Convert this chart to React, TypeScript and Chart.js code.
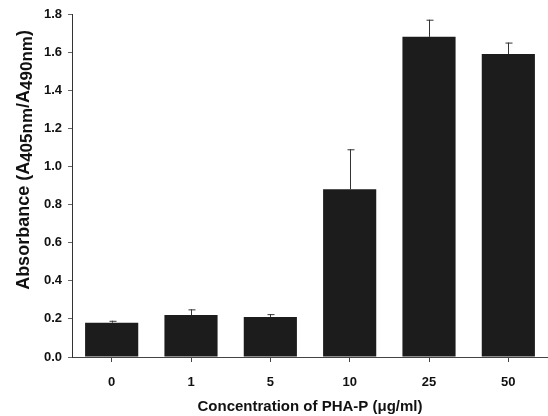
import React, { useEffect, useRef } from "react";
import { Chart, registerables } from "chart.js";

Chart.register(...registerables);

const categories = ["0", "1", "5", "10", "25", "50"];
const absorbance = [0.18, 0.22, 0.21, 0.88, 1.68, 1.59];
const errorUpper = [0.01, 0.03, 0.015, 0.21, 0.09, 0.06];
const yTicks = [0, 0.2, 0.4, 0.6, 0.8, 1.0, 1.2, 1.4, 1.6, 1.8];

const FONT = "'Liberation Sans', Arial, sans-serif";

const errorBarPlugin = {
  id: "errorBars",
  afterDatasetsDraw(chart: any) {
    const { ctx } = chart;
    const meta = chart.getDatasetMeta(0);
    const y = chart.scales.y;
    ctx.save();
    ctx.strokeStyle = "#333";
    ctx.lineWidth = 1;
    meta.data.forEach((bar: any, i: number) => {
      const top = y.getPixelForValue(absorbance[i] + errorUpper[i]);
      const base = y.getPixelForValue(absorbance[i]);
      const x = Math.round(bar.x) + 0.5;
      ctx.beginPath();
      ctx.moveTo(x, base);
      ctx.lineTo(x, top);
      ctx.moveTo(x - 3, top + 0.5);
      ctx.lineTo(x + 4, top + 0.5);
      ctx.stroke();
    });
    ctx.restore();
  },
  afterDraw(chart: any) {
    const { ctx, chartArea } = chart;
    ctx.save();
    ctx.fillStyle = "#111";
    // x title
    ctx.font = `bold 15px ${FONT}`;
    ctx.textAlign = "center";
    ctx.textBaseline = "middle";
    ctx.fillText("Concentration of PHA-P (μg/ml)", (chartArea.left + chartArea.right) / 2 - 0, 407);
    // y title with subscripts
    ctx.translate(23, 160);
    ctx.rotate(-Math.PI / 2);
    const parts: [string, boolean][] = [
      ["Absorbance (A", false],
      ["405nm", true],
      ["/A", false],
      ["490nm", true],
      [")", false],
    ];
    const big = `bold 18px ${FONT}`;
    const small = `bold 17px ${FONT}`;
    let total = 0;
    parts.forEach(([t, s]) => {
      ctx.font = s ? small : big;
      total += ctx.measureText(t).width;
    });
    let x = -total / 2;
    ctx.textAlign = "left";
    ctx.textBaseline = "alphabetic";
    parts.forEach(([t, s]) => {
      ctx.font = s ? small : big;
      ctx.fillText(t, x, s ? 9 : 6);
      x += ctx.measureText(t).width;
    });
    ctx.restore();
  },
};

export default function App() {
  const ref = useRef<HTMLCanvasElement>(null);
  useEffect(() => {
    document.body.style.margin = "0";
    const chart = new Chart(ref.current!, {
      type: "bar",
      data: {
        labels: categories,
        datasets: [
          {
            data: absorbance,
            backgroundColor: "#1c1c1c",
            borderWidth: 0,
            categoryPercentage: 1,
            barPercentage: 0.67,
          },
        ],
      },
      options: {
        animation: false,
        responsive: false,
        maintainAspectRatio: false,
        layout: { padding: { top: 14, right: 0, left: 0, bottom: 0 } },
        plugins: { legend: { display: false }, tooltip: { enabled: false } },
        scales: {
          x: {
            afterFit: (s: any) => { s.height = 59; },
            grid: { drawOnChartArea: false, offset: false, tickLength: 5, color: "#444" },
            border: { color: "#444", width: 1 },
            ticks: { color: "#111", font: { family: FONT, size: 13, weight: "bold" }, padding: 13 },
          },
          y: {
            min: 0,
            max: 1.8,
            afterFit: (s: any) => { s.width = 72; },
            afterBuildTicks: (s: any) => { s.ticks = yTicks.map((v) => ({ value: v })); },
            grid: { drawOnChartArea: false, tickLength: 4, color: "#666" },
            border: { color: "#333", width: 1 },
            ticks: {
              color: "#111",
              font: { family: FONT, size: 13, weight: "bold" },
              padding: 6,
              callback: (v: any) => Number(v).toFixed(1),
            },
          },
        },
      },
      plugins: [errorBarPlugin],
    });
    return () => chart.destroy();
  }, []);
  return <canvas ref={ref} width={548} height={416} style={{ display: "block" }} />;
}
